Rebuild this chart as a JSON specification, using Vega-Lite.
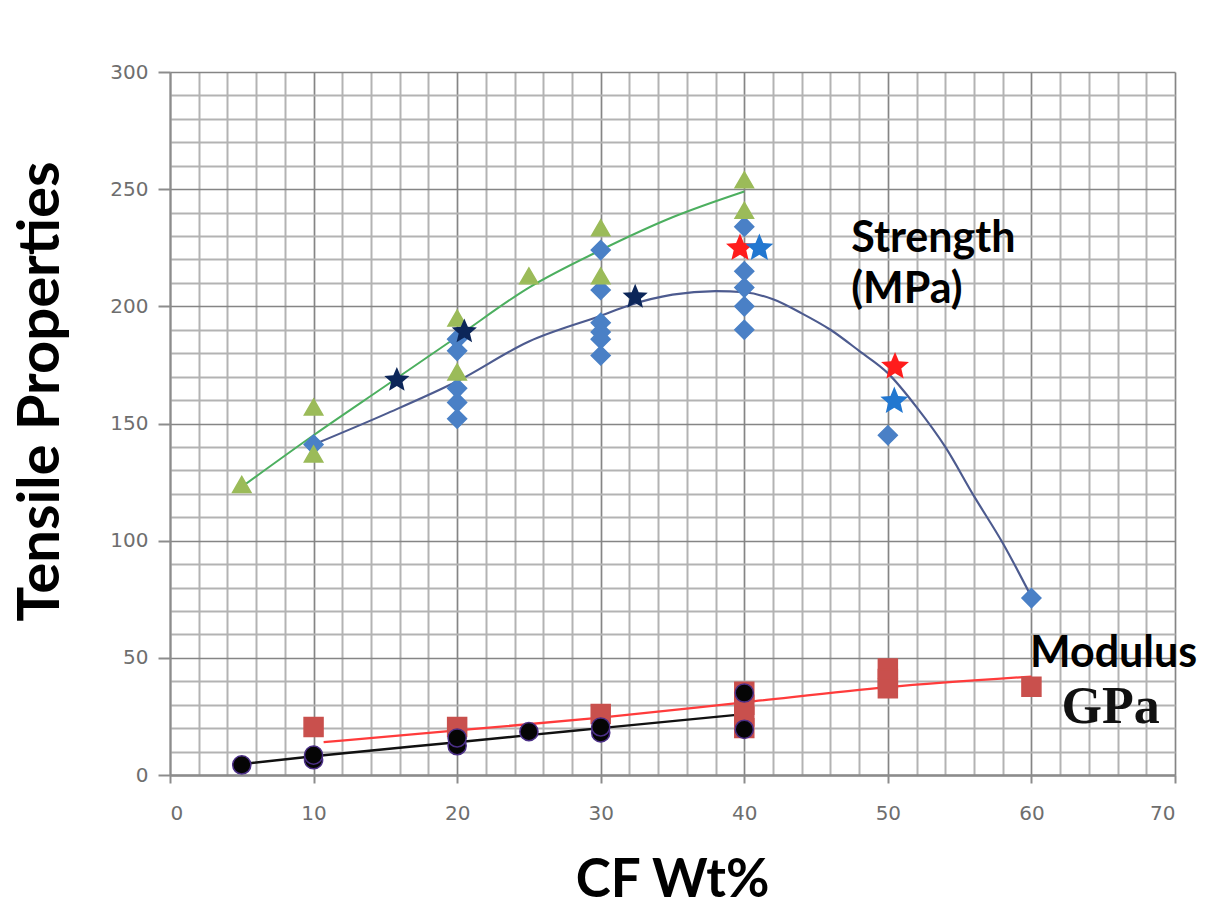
{
  "$schema": "https://vega.github.io/schema/vega-lite/v6.json",
  "width": 1005,
  "height": 703,
  "autosize": {"type": "none"},
  "padding": {"left": 170, "top": 72, "right": 34, "bottom": 138},
  "background": "#ffffff",
  "config": {"view": {"stroke": null}},
  "resolve": {"scale": {"color": "independent", "fill": "independent", "stroke": "independent", "size": "independent", "shape": "independent", "strokeWidth": "independent"}},
  "datasets": {
    "points": [
      {"series": "dia", "x": 10, "y": 141},
      {"series": "dia", "x": 20, "y": 186},
      {"series": "dia", "x": 20, "y": 181},
      {"series": "dia", "x": 20, "y": 165},
      {"series": "dia", "x": 20, "y": 159},
      {"series": "dia", "x": 20, "y": 152},
      {"series": "dia", "x": 30, "y": 224},
      {"series": "dia", "x": 30, "y": 207},
      {"series": "dia", "x": 30, "y": 193},
      {"series": "dia", "x": 30, "y": 189},
      {"series": "dia", "x": 30, "y": 186},
      {"series": "dia", "x": 30, "y": 179},
      {"series": "dia", "x": 40, "y": 234},
      {"series": "dia", "x": 40, "y": 215},
      {"series": "dia", "x": 40, "y": 208},
      {"series": "dia", "x": 40, "y": 200},
      {"series": "dia", "x": 40, "y": 190},
      {"series": "dia", "x": 50, "y": 145},
      {"series": "dia", "x": 60, "y": 75.5},
      {"series": "tri", "x": 5, "y": 124},
      {"series": "tri", "x": 10, "y": 157},
      {"series": "tri", "x": 10, "y": 137},
      {"series": "tri", "x": 20, "y": 195},
      {"series": "tri", "x": 20, "y": 172},
      {"series": "tri", "x": 25, "y": 213},
      {"series": "tri", "x": 30, "y": 233.5},
      {"series": "tri", "x": 30, "y": 213},
      {"series": "tri", "x": 40, "y": 254},
      {"series": "tri", "x": 40, "y": 241},
      {"series": "sq", "x": 10, "y": 20.5},
      {"series": "sq", "x": 20, "y": 20.5},
      {"series": "sq", "x": 30, "y": 26},
      {"series": "sq", "x": 40, "y": 35.5},
      {"series": "sq", "x": 40, "y": 30},
      {"series": "sq", "x": 40, "y": 25},
      {"series": "sq", "x": 40, "y": 20},
      {"series": "sq", "x": 50, "y": 45.5},
      {"series": "sq", "x": 50, "y": 41},
      {"series": "sq", "x": 50, "y": 37},
      {"series": "sq", "x": 60, "y": 37.7},
      {"series": "circ", "x": 5, "y": 4.3},
      {"series": "circ", "x": 10, "y": 6.5},
      {"series": "circ", "x": 10, "y": 8.5},
      {"series": "circ", "x": 20, "y": 12.5},
      {"series": "circ", "x": 20, "y": 15.8},
      {"series": "circ", "x": 25, "y": 18.5},
      {"series": "circ", "x": 30, "y": 18},
      {"series": "circ", "x": 30, "y": 20.5},
      {"series": "circ", "x": 40, "y": 35},
      {"series": "circ", "x": 40, "y": 19.5}
    ],
    "stars": [
      {"series": "navy", "x": 15.8, "y": 168.5},
      {"series": "navy", "x": 20.5, "y": 189.2},
      {"series": "navy", "x": 32.4, "y": 204},
      {"series": "red", "x": 39.7, "y": 224.8},
      {"series": "red", "x": 50.5, "y": 174.3},
      {"series": "blue", "x": 41.05, "y": 224.8},
      {"series": "blue", "x": 50.45, "y": 159.5}
    ],
    "curves": [
      {"curve": "green", "x": 5, "y": 123},
      {"curve": "green", "x": 10, "y": 145},
      {"curve": "green", "x": 15, "y": 166},
      {"curve": "green", "x": 20, "y": 187},
      {"curve": "green", "x": 25, "y": 208},
      {"curve": "green", "x": 30, "y": 224},
      {"curve": "green", "x": 35, "y": 238},
      {"curve": "green", "x": 40, "y": 249},
      {"curve": "slate", "x": 10, "y": 141},
      {"curve": "slate", "x": 15, "y": 154},
      {"curve": "slate", "x": 20, "y": 168},
      {"curve": "slate", "x": 25, "y": 185},
      {"curve": "slate", "x": 30, "y": 196},
      {"curve": "slate", "x": 32, "y": 200.5},
      {"curve": "slate", "x": 35, "y": 205},
      {"curve": "slate", "x": 38, "y": 206.5},
      {"curve": "slate", "x": 40, "y": 206},
      {"curve": "slate", "x": 42, "y": 203},
      {"curve": "slate", "x": 44, "y": 197},
      {"curve": "slate", "x": 46, "y": 190},
      {"curve": "slate", "x": 48, "y": 181},
      {"curve": "slate", "x": 50, "y": 171.5},
      {"curve": "slate", "x": 52, "y": 157},
      {"curve": "slate", "x": 54, "y": 140},
      {"curve": "slate", "x": 56, "y": 119},
      {"curve": "slate", "x": 58, "y": 99},
      {"curve": "slate", "x": 60, "y": 76},
      {"curve": "redline", "x": 10.7, "y": 14},
      {"curve": "redline", "x": 20, "y": 19},
      {"curve": "redline", "x": 30, "y": 24.5},
      {"curve": "redline", "x": 40, "y": 31},
      {"curve": "redline", "x": 50, "y": 37.5},
      {"curve": "redline", "x": 60, "y": 42},
      {"curve": "black", "x": 5.5, "y": 5},
      {"curve": "black", "x": 10, "y": 8},
      {"curve": "black", "x": 20, "y": 14},
      {"curve": "black", "x": 25, "y": 17},
      {"curve": "black", "x": 30, "y": 20},
      {"curve": "black", "x": 40, "y": 26}
    ],
    "labels": [
      {"text": "Strength", "font": "sans", "x": 47.45, "y": 223.3},
      {"text": "(MPa)", "font": "sans", "x": 47.45, "y": 201.4},
      {"text": "Modulus", "font": "sans", "x": 59.9, "y": 46.2},
      {"text": "GPa", "font": "serif", "x": 62.1, "y": 22.0}
    ]
  },
  "encoding": {
    "x": {
      "field": "x",
      "type": "quantitative",
      "scale": {"domain": [0, 70], "nice": false, "zero": false},
      "axis": {
        "values": [0, 2, 4, 6, 8, 10, 12, 14, 16, 18, 20, 22, 24, 26, 28, 30, 32, 34, 36, 38, 40, 42, 44, 46, 48, 50, 52, 54, 56, 58, 60, 62, 64, 66, 68, 70],
        "labelExpr": "datum.value % 10 === 0 ? datum.label : ''",
        "grid": true,
        "gridColor": {"condition": {"test": "datum.value % 10 === 0", "value": "#858585"}, "value": "#b3b3b3"},
        "gridWidth": {"condition": {"test": "datum.value % 10 === 0", "value": 1.7}, "value": 2},
        "tickOpacity": {"condition": {"test": "datum.value % 10 === 0", "value": 1}, "value": 0},
        "tickSize": 8,
        "tickWidth": 2,
        "tickColor": "#8c8c8c",
        "domainColor": "#8c8c8c",
        "domainWidth": 2.5,
        "labelPadding": 20,
        "labelFont": "DejaVu Sans",
        "labelFontSize": 20,
        "labelColor": "#6e6e6e",
        "title": "CF Wt%",
        "titleFont": "Lato",
        "titleFontSize": 53,
        "titleFontWeight": "bold",
        "titleColor": "#000000",
        "titleX": 502,
        "titleY": 121,
        "titleAlign": "center",
        "titleBaseline": "alphabetic"
      }
    },
    "y": {
      "field": "y",
      "type": "quantitative",
      "scale": {"domain": [0, 300], "nice": false, "zero": true},
      "axis": {
        "values": [0, 10, 20, 30, 40, 50, 60, 70, 80, 90, 100, 110, 120, 130, 140, 150, 160, 170, 180, 190, 200, 210, 220, 230, 240, 250, 260, 270, 280, 290, 300],
        "labelExpr": "datum.value % 50 === 0 ? datum.label : ''",
        "grid": true,
        "gridColor": {"condition": {"test": "datum.value % 50 === 0", "value": "#858585"}, "value": "#b3b3b3"},
        "gridWidth": {"condition": {"test": "datum.value % 50 === 0", "value": 1.7}, "value": 2},
        "tickOpacity": {"condition": {"test": "datum.value % 50 === 0", "value": 1}, "value": 0},
        "tickSize": 12,
        "tickWidth": 2,
        "tickColor": "#8c8c8c",
        "domainColor": "#8c8c8c",
        "domainWidth": 2,
        "labelPadding": 10,
        "labelFont": "DejaVu Sans",
        "labelFontSize": 20,
        "labelColor": "#6e6e6e",
        "title": "Tensile Properties",
        "titleFont": "Lato",
        "titleFontSize": 58,
        "titleFontWeight": "bold",
        "titleColor": "#000000",
        "titleAngle": -90,
        "titleX": -112,
        "titleY": 319,
        "titleAlign": "center",
        "titleBaseline": "alphabetic"
      }
    }
  },
  "layer": [
    {
      "data": {"name": "curves"},
      "mark": {"type": "line", "interpolate": "monotone"},
      "encoding": {
        "color": {
          "field": "curve",
          "type": "nominal",
          "scale": {"domain": ["green", "slate", "redline", "black"], "range": ["#4caf5f", "#4d5b8f", "#ff3b3b", "#111111"]},
          "legend": null
        },
        "strokeWidth": {
          "field": "curve",
          "type": "nominal",
          "scale": {"domain": ["green", "slate", "redline", "black"], "range": [2, 2.4, 1.6, 1.8]},
          "legend": null
        }
      }
    },
    {
      "data": {"name": "points"},
      "mark": {"type": "point", "filled": true, "opacity": 1, "fillOpacity": 1, "strokeWidth": 1.5},
      "encoding": {
        "shape": {
          "field": "series",
          "type": "nominal",
          "scale": {
            "domain": ["dia", "tri", "sq", "circ"],
            "range": ["diamond", "triangle-up", "square", "circle"]
          },
          "legend": null
        },
        "fill": {
          "field": "series",
          "type": "nominal",
          "scale": {
            "domain": ["dia", "tri", "sq", "circ"],
            "range": ["#4a80c6", "#9bbb59", "#c9504d", "#050505"]
          },
          "legend": null
        },
        "stroke": {
          "field": "series",
          "type": "nominal",
          "scale": {
            "domain": ["dia", "tri", "sq", "circ"],
            "range": ["#4a80c6", "#9bbb59", "#c9504d", "#4b2f86"]
          },
          "legend": null
        },
        "size": {
          "field": "series",
          "type": "nominal",
          "scale": {
            "type": "ordinal",
            "domain": ["dia", "tri", "sq", "circ"],
            "range": [360, 340, 360, 330]
          },
          "legend": null
        }
      }
    },
    {
      "data": {"name": "stars"},
      "transform": [{"filter": "datum.series === 'navy'"}],
      "mark": {"type": "point", "filled": true, "opacity": 1, "color": "#0c2659", "size": 700,
        "shape": "M0,-1L0.265,-0.364L0.951,-0.309L0.428,0.139L0.588,0.809L0,0.45L-0.588,0.809L-0.428,0.139L-0.951,-0.309L-0.265,-0.364Z"}
    },
    {
      "data": {"name": "stars"},
      "transform": [{"filter": "datum.series !== 'navy'"}],
      "mark": {"type": "point", "filled": true, "opacity": 1, "size": 860,
        "shape": "M0,-1L0.265,-0.364L0.951,-0.309L0.428,0.139L0.588,0.809L0,0.45L-0.588,0.809L-0.428,0.139L-0.951,-0.309L-0.265,-0.364Z"},
      "encoding": {
        "fill": {
          "field": "series",
          "type": "nominal",
          "scale": {"domain": ["red", "blue"], "range": ["#ff1c1c", "#2277d0"]},
          "legend": null
        }
      }
    },
    {
      "data": {"name": "labels"},
      "transform": [{"filter": "datum.font === 'sans'"}],
      "mark": {"type": "text", "font": "Lato", "fontWeight": "bold", "fontSize": 43, "align": "left", "baseline": "alphabetic", "color": "#000000"},
      "encoding": {"text": {"field": "text", "type": "nominal"}}
    },
    {
      "data": {"name": "labels"},
      "transform": [{"filter": "datum.font === 'serif'"}],
      "mark": {"type": "text", "font": "Liberation Serif", "fontWeight": "bold", "fontSize": 52, "align": "left", "baseline": "alphabetic", "color": "#111111"},
      "encoding": {"text": {"field": "text", "type": "nominal"}}
    }
  ]
}
